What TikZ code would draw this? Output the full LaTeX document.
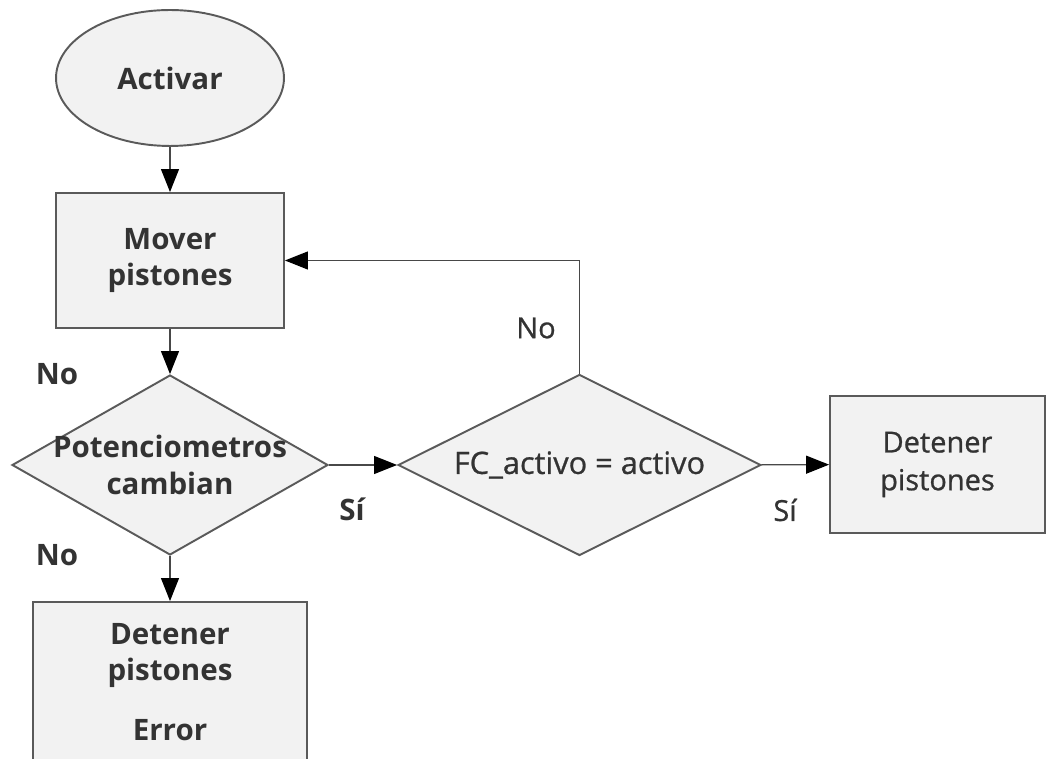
\documentclass[tikz,border=0pt]{standalone}
\usepackage{fontspec}
\setmainfont{Open Sans}
\newfontfamily\medfont{Open Sans}[FakeBold=0.8]
\usetikzlibrary{shapes.geometric,arrows.meta}

\definecolor{edge}{HTML}{5A5A5A}
\definecolor{paper}{HTML}{F2F2F2}
\definecolor{ink}{HTML}{333333}

\tikzset{
    fig/.style={draw=edge, fill=paper, line width=1.1pt, inner sep=0pt},
    proc/.style={fig, rectangle},
    cond/.style={fig, diamond},
    flow/.style={draw=edge!80!black, line width=0.7pt, -{Triangle[length=4.6mm, width=3.6mm, color=black]}},
    txt/.style={text=ink, align=center, font=\fontsize{16.8}{21}\selectfont\bfseries},
    lite/.style={text=ink, align=center, font=\fontsize{16.5}{21.5}\selectfont\medfont},
}

\begin{document}
\begin{tikzpicture}[x=0.02cm, y=-0.02cm]
    \useasboundingbox (0,0) rectangle (1046,759);

    \node[fig, ellipse, minimum width=4.56cm, minimum height=2.72cm, txt] (activar) at (170,78) {Activar};
    \node[proc, minimum width=4.56cm, minimum height=2.7cm, txt] (mover) at (170,260.5) {Mover\\pistones};
    \node[cond, minimum width=6.32cm, minimum height=3.6cm,
          label={[txt]center:Potenciometros\\cambian}] (pot) at (170,465) {};
    \node[proc, minimum width=5.48cm, minimum height=3.2cm, txt] (err) at (170,682) {Detener\\pistones\\[13pt]Error};
    \node[cond, minimum width=7.26cm, minimum height=3.62cm,
          label={[lite, font=\fontsize{17.5}{21}\selectfont\medfont]center:FC\_activo = activo}] (fc) at (579.5,465) {};
    \node[proc, minimum width=4.3cm, minimum height=2.74cm, lite] (stop) at (937.5,464.5) {Detener\\pistones};

    \node[txt] (no1) at (57,374) {No};
    \node[txt] (no2) at (57,555) {No};
    \node[txt] (si1) at (352,509) {Sí};
    \node[lite] (no3) at (536,328) {No};
    \node[lite] (si2) at (785,510) {Sí};

    \draw[flow] (activar) -- (mover);
    \draw[flow] (mover) -- (pot);
    \draw[flow] (pot) -- (err);
    \draw[flow] (pot) -- (fc);
    \draw[flow] (fc) -- (stop);
    \draw[flow] (fc.north) |- (mover.east);
\end{tikzpicture}
\end{document}
